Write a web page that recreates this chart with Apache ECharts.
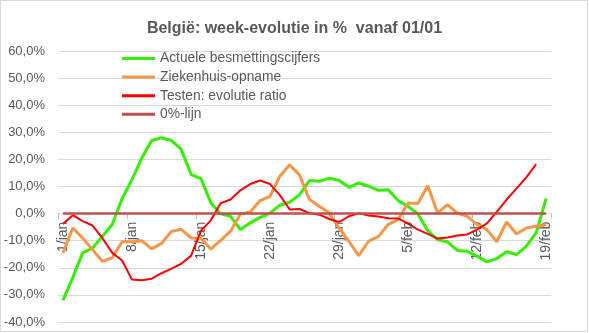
<!DOCTYPE html>
<html>
<head>
<meta charset="utf-8">
<script src="https://cdn.jsdelivr.net/npm/echarts@6/dist/echarts.min.js"></script>
<style>
html,body{margin:0;padding:0;background:#fff;}
#chart{width:589px;height:333px;}
</style>
</head>
<body>
<div id="chart"></div>
<script>
var categories = [];
(function(){
  for (var d = 1; d <= 31; d++) categories.push(d + '/jan');
  for (var e = 1; e <= 19; e++) categories.push(e + '/feb');
})();

var seriesNames = ['Actuele besmettingscijfers', 'Ziekenhuis-opname', 'Testen: evolutie ratio', '0%-lijn'];

var besmettingen = [-32, -23.6, -14.5, -12.7, -8.4, -4, 5.5, 12.5, 20.5, 27,
  28, 27, 23.7, 14.4, 12.9, 4, -0.1, -1, -5.9, -3.4,
  -1.4, 0.2, 3.1, 4.2, 7, 12.2, 11.9, 13.1, 12.3, 9.7,
  11.3, 10.1, 8.6, 8.8, 4.8, 2.7, -0.1, -6.3, -9.6, -10.4,
  -13.6, -13.9, -15.7, -17.8, -16.6, -14.1, -15.1, -12, -7.1, 5.5];

var ziekenhuis = [-14.5, -5.3, -9, -13.3, -17.6, -16.3, -10.4, -10.4, -10, -13,
  -11, -6.6, -5.8, -9, -9.1, -13.1, -9.9, -6.5, -0.1, 0.6,
  4.8, 6.4, 13.8, 18, 14.2, 5.2, 2.7, 0.2, -5.3, -10.2,
  -15.5, -10.2, -8.4, -4, -2.2, 3.9, 3.7, 10.3, 0.2, 3.3,
  0.2, -1, -4, -5.9, -10.4, -3.1, -7.5, -5.3, -4.7, -4];

var testen = [-3.8, -0.6, -2.8, -4.4, -9, -14.5, -17.3, -24.3, -24.6, -24,
  -22, -20.3, -18.5, -15.5, -6.3, -2.5, 3.8, 5.2, 8.6, 10.9,
  12.2, 10.9, 6.8, 1.5, 1.7, 0.2, -0.4, -2, -3.1, -1,
  0.1, -0.7, -1.1, -1.7, -1.8, -3.7, -5.9, -7.5, -9.2, -8.8,
  -8.1, -7.7, -5.9, -3.6, 0.6, 5.2, 9.2, 13.4, 18.3, null];

var nulLijn = [];
for (var i = 0; i < categories.length; i++) nulLijn.push(0);

var yMin = -40, yMax = 60, yInterval = 10;

var FONT = 'Liberation Sans';
var TXT = '#595959';

var gridTop = 51, gridBottom = 11, H = 333;
var plotH = H - gridTop - gridBottom;
var zeroFromBottom = plotH * (0 - yMin) / (yMax - yMin);

var chart = echarts.init(document.getElementById('chart'));
chart.setOption({
  animation: false,
  backgroundColor: '#ffffff',
  title: {
    text: 'België: week-evolutie in %  vanaf 01/01',
    left: 'center',
    top: 21,
    padding: 0,
    textStyle: {fontFamily: FONT, fontSize: 16, fontWeight: 'bold', color: TXT}
  },
  graphic: [{
    type: 'rect',
    shape: {x: 0.5, y: 0.5, width: 587, height: 331},
    style: {fill: 'none', stroke: '#D9D9D9', lineWidth: 1},
    silent: true
  }],
  legend: {
    orient: 'vertical',
    left: 122,
    top: 51.5,
    padding: 0,
    icon: 'rect',
    itemWidth: 33,
    itemHeight: 3,
    itemGap: 4.6,
    textStyle: {fontFamily: FONT, fontSize: 13.8, lineHeight: 14, color: TXT},
    data: seriesNames
  },
  grid: {
    left: 58,
    right: 38,
    top: gridTop,
    bottom: gridBottom,
    containLabel: false,
    outerBoundsMode: 'none'
  },
  xAxis: {
    type: 'category',
    data: categories,
    boundaryGap: true,
    offset: -zeroFromBottom,
    axisLine: {onZero: false, lineStyle: {color: '#D9D9D9', width: 1}},
    axisTick: {show: true, interval: 6, length: 5, lineStyle: {color: '#BFBFBF'}},
    axisLabel: {
      interval: 6,
      rotate: 90,
      margin: 8,
      hideOverlap: false,
      fontFamily: FONT,
      fontSize: 14,
      color: TXT
    },
    splitLine: {show: false}
  },
  yAxis: {
    type: 'value',
    min: yMin,
    max: yMax,
    interval: yInterval,
    axisLine: {show: false},
    axisTick: {show: false},
    axisLabel: {
      margin: 13,
      fontFamily: FONT,
      fontSize: 13,
      color: TXT,
      formatter: function (v) { return v.toFixed(1).replace('.', ',') + '%'; }
    },
    splitLine: {lineStyle: {color: '#D9D9D9', width: 1}}
  },
  series: [
    {name: seriesNames[0], type: 'line', data: besmettingen, symbol: 'none',
     lineStyle: {color: '#33F000', width: 3}, itemStyle: {color: '#33F000'}},
    {name: seriesNames[1], type: 'line', data: ziekenhuis, symbol: 'none',
     lineStyle: {color: '#F79646', width: 3}, itemStyle: {color: '#F79646'}},
    {name: seriesNames[2], type: 'line', data: testen, symbol: 'none',
     lineStyle: {color: '#FF0000', width: 2}, itemStyle: {color: '#FF0000'}},
    {name: seriesNames[3], type: 'line', data: nulLijn, symbol: 'none',
     lineStyle: {color: '#C0504D', width: 2.5}, itemStyle: {color: '#C0504D'}}
  ]
});
</script>
</body>
</html>
